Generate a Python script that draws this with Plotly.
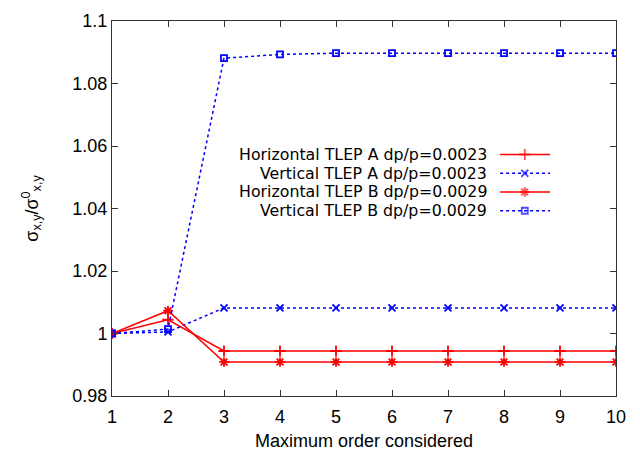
import plotly.graph_objects as go

orders = [1, 2, 3, 4, 5, 6, 7, 8, 9, 10]
h_a = [1.0, 1.0044, 0.9944, 0.9944, 0.9944, 0.9944, 0.9944, 0.9944, 0.9944, 0.9944]
v_a = [1.0, 1.0005, 1.0082, 1.0082, 1.0082, 1.0082, 1.0082, 1.0082, 1.0082, 1.0082]
h_b = [1.0, 1.0073, 0.9909, 0.9909, 0.9909, 0.9909, 0.9909, 0.9909, 0.9909, 0.9909]
v_b = [1.0, 1.0014, 1.0881, 1.0893, 1.0897, 1.0897, 1.0897, 1.0897, 1.0897, 1.0897]

labels = ["Horizontal TLEP A dp/p=0.0023", "Vertical TLEP A dp/p=0.0023",
          "Horizontal TLEP B dp/p=0.0029", "Vertical TLEP B dp/p=0.0029"]
series = [h_a, v_a, h_b, v_b]
colors = ["#ff0000", "#0000ff", "#ff0000", "#0000ff"]
dashes = ["solid", "dot", "solid", "dot"]
symbols = ["cross-thin-open", "x-thin-open", "asterisk-open", "square-open"]
sizes = [8, 7, 8, 6]

FONT = "Liberation Sans, Arial, sans-serif"
LEGFONT = "DejaVu Sans, sans-serif"
FS = 18
fig = go.Figure()

for s, lab, c, d, sym, sz in zip(series, labels, colors, dashes, symbols, sizes):
    fig.add_trace(go.Scatter(
        x=orders, y=s, mode="lines+markers", name=lab, showlegend=False,
        line=dict(color=c, width=1.5, dash=d),
        marker=dict(symbol=sym, size=sz, color=c, line=dict(color=c, width=1.8)),
    ))

# custom gnuplot-style legend (text right-aligned, sample to the right)
leg_y = [0.644, 0.594, 0.544, 0.494]
for lab, c, d, sym, sz, yy in zip(labels, colors, dashes, symbols, sizes, leg_y):
    fig.add_annotation(x=0.748, y=yy, xref="paper", yref="paper", text=lab,
                       showarrow=False, xanchor="right", yanchor="middle",
                       font=dict(family=LEGFONT, size=15.8, color="black"))
    fig.add_trace(go.Scatter(
        x=[0.770, 0.819, 0.869], y=[yy, yy, yy], xaxis="x2", yaxis="y2",
        mode="lines+markers", showlegend=False, hoverinfo="skip",
        line=dict(color=c, width=1.5, dash=d),
        marker=dict(symbol=sym, size=[0, sz, 0], color=c, line=dict(color=c, width=1.8)),
    ))

axis_common = dict(showline=True, linecolor="#333333", linewidth=1, mirror="ticks",
                   ticks="inside", ticklen=6, tickcolor="#333333", showgrid=False,
                   zeroline=False, automargin=False,
                   tickfont=dict(family=FONT, size=FS, color="black"))

fig.update_layout(
    width=640, height=451,
    margin=dict(l=112, r=24, t=21, b=55),
    paper_bgcolor="white", plot_bgcolor="white",
    font=dict(family=FONT, size=FS, color="black"),
    xaxis=dict(range=[1, 10], tickvals=orders, ticklabelstandoff=4, **axis_common,
               title=dict(text="Maximum order considered", font=dict(family=FONT, size=FS),
                          standoff=8)),
    yaxis=dict(range=[0.98, 1.1], tickvals=[0.98, 1.0, 1.02, 1.04, 1.06, 1.08, 1.1],
               ticktext=["0.98", "1", "1.02", "1.04", "1.06", "1.08", "1.1"], **axis_common,
               title=dict(text="σ<sub>x,y</sub>/σ<sup>0</sup><sub>x,y</sub>",
                          font=dict(family=FONT, size=FS), standoff=29)),
    xaxis2=dict(range=[0, 1], domain=[0, 1], visible=False, anchor="y2", overlaying="x"),
    yaxis2=dict(range=[0, 1], domain=[0, 1], visible=False, anchor="x2", overlaying="y"),
    showlegend=False,
)

fig.write_html("out.html")
